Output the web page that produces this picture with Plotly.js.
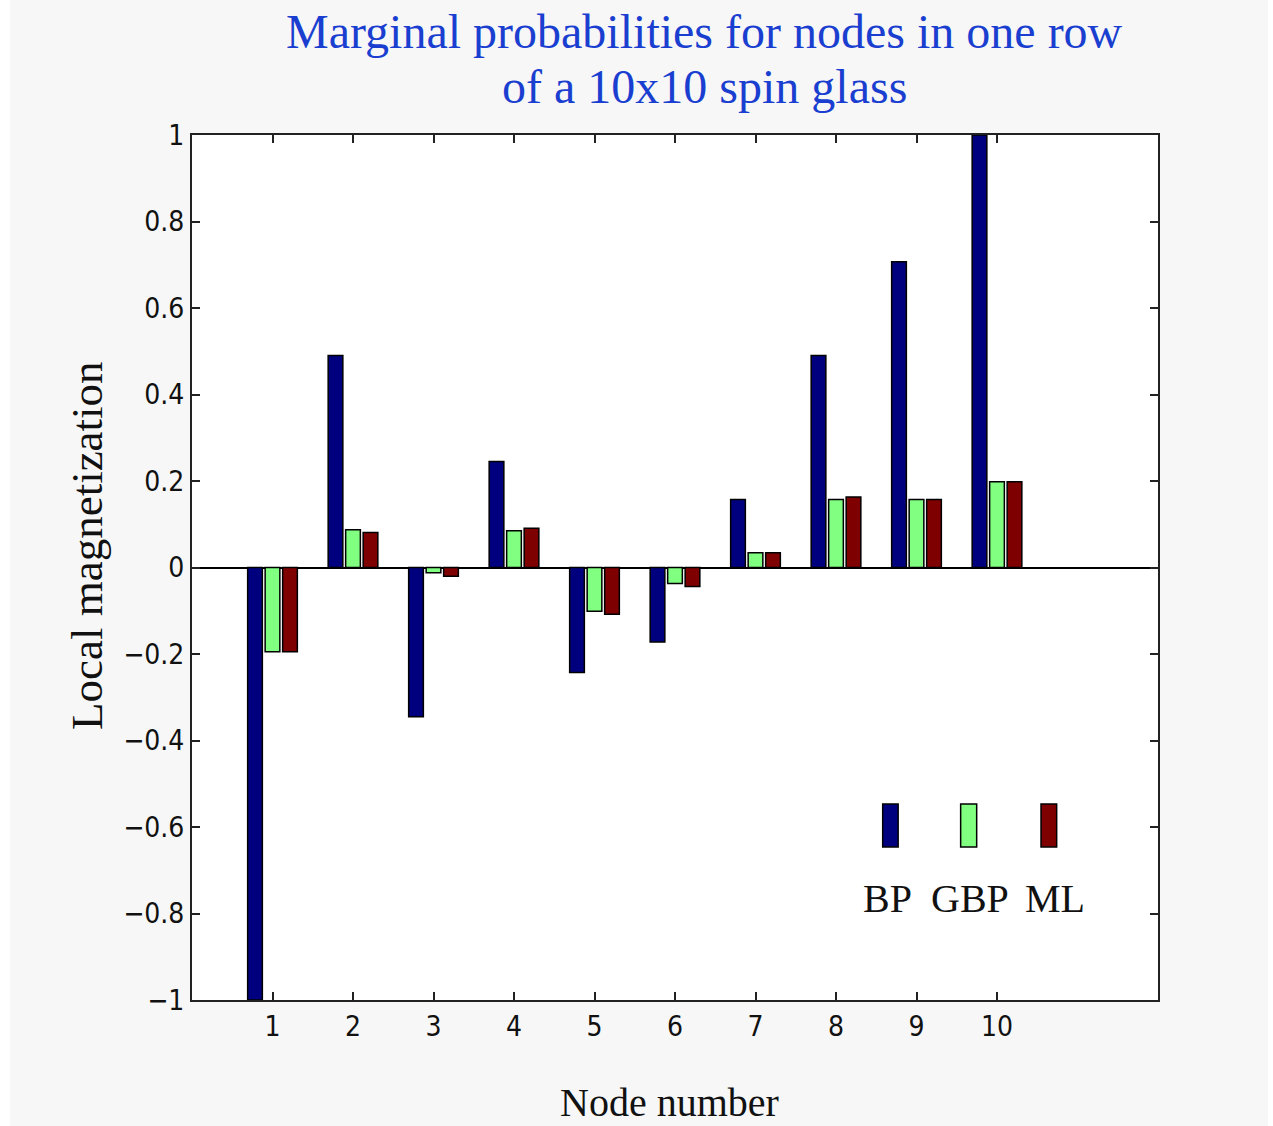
<!DOCTYPE html>
<html>
<head>
<meta charset="utf-8">
<script src="https://cdn.plot.ly/plotly-3.0.1.min.js"></script>
<style>
  html, body { margin: 0; padding: 0; background: #ffffff; }
  #chart { position: absolute; left: 10px; top: 0px; width: 1258px; height: 1126px; }
</style>
</head>
<body>
<div id="chart"></div>
<script>
// ---- data ----
const nodes = [1, 2, 3, 4, 5, 6, 7, 8, 9, 10];
const bp  = [-1.0, 0.49, -0.345, 0.245, -0.243, -0.172, 0.157, 0.49, 0.707, 1.0];
const gbp = [-0.195, 0.087, -0.012, 0.085, -0.101, -0.037, 0.034, 0.157, 0.157, 0.198];
const ml  = [-0.195, 0.081, -0.02, 0.091, -0.108, -0.044, 0.034, 0.163, 0.157, 0.198];
const seriesNames = ['BP', 'GBP', 'ML'];
const seriesColors = ['#00007f', '#80ff80', '#7f0000'];
const yTicks = [-1, -0.8, -0.6, -0.4, -0.2, 0, 0.2, 0.4, 0.6, 0.8, 1];
const yTickText = ['\u22121', '\u22120.8', '\u22120.6', '\u22120.4', '\u22120.2', '0', '0.2', '0.4', '0.6', '0.8', '1'];

const serif = '"Liberation Serif", "Times New Roman", serif';
const narrow = '"Liberation Sans Narrow", "DejaVu Sans Condensed", "Liberation Sans", sans-serif';

const values = [bp, gbp, ml];
const traces = values.map((v, i) => ({
  type: 'bar',
  x: nodes,
  y: v,
  name: seriesNames[i],
  marker: { color: seriesColors[i], line: { color: '#000000', width: 1.5 } },
  hoverinfo: 'x+y+name'
}));

// legend swatches (paper coords) and labels
const sw = [[0.715, 0.731], [0.7957, 0.8123], [0.8789, 0.8951]];
const labX = [0.7195, 0.8054, 0.8934];
const shapes = sw.map((s, i) => ({
  type: 'rect', xref: 'paper', yref: 'paper',
  x0: s[0], x1: s[1], y0: 0.177, y1: 0.2266,
  fillcolor: seriesColors[i], line: { color: '#000000', width: 1.5 }
}));

const annotations = [
  { text: 'Marginal probabilities for nodes in one row', xref: 'paper', yref: 'paper',
    x: 0.5305, y: 1.1195, xanchor: 'center', yanchor: 'middle', showarrow: false,
    font: { family: serif, size: 48, color: '#1a3fd0' } },
  { text: 'of a 10x10 spin glass', xref: 'paper', yref: 'paper',
    x: 0.5305, y: 1.0555, xanchor: 'center', yanchor: 'middle', showarrow: false,
    font: { family: serif, size: 48, color: '#1a3fd0' } },
  { text: 'Local magnetization', xref: 'paper', yref: 'paper', textangle: -90,
    x: -0.1087, y: 0.526, xanchor: 'center', yanchor: 'middle', showarrow: false,
    font: { family: serif, size: 45, color: '#111111' } },
  { text: 'Node number', xref: 'paper', yref: 'paper',
    x: 0.4938, y: -0.1185, xanchor: 'center', yanchor: 'middle', showarrow: false,
    font: { family: serif, size: 40, color: '#111111' } }
].concat(seriesNames.map((n, i) => ({
  text: n, xref: 'paper', yref: 'paper', x: labX[i], y: 0.1168,
  xanchor: 'center', yanchor: 'middle', showarrow: false,
  font: { family: serif, size: 40, color: '#111111' }
})));

const layout = {
  width: 1258, height: 1126,
  margin: { l: 182, r: 110, t: 135, b: 126, pad: 0 },
  paper_bgcolor: '#f7f7f7',
  plot_bgcolor: '#ffffff',
  showlegend: false,
  barmode: 'group',
  bargap: 0.348,
  bargroupgap: 0.16,
  xaxis: {
    range: [0, 12], tickmode: 'array', tickvals: nodes, ticktext: nodes.map(String),
    ticks: 'inside', ticklen: 8, tickwidth: 2, tickcolor: '#222222',
    showline: true, linecolor: '#222222', linewidth: 2, mirror: 'ticks',
    showgrid: false, zeroline: false, fixedrange: true,
    tickfont: { family: narrow, size: 28, color: '#111111' }
  },
  yaxis: {
    range: [-1, 1], tickmode: 'array', tickvals: yTicks, ticktext: yTickText,
    ticks: 'inside', ticklen: 8, tickwidth: 2, tickcolor: '#222222',
    showline: true, linecolor: '#222222', linewidth: 2, mirror: 'ticks',
    showgrid: false, zeroline: true, zerolinecolor: '#000000', zerolinewidth: 2,
    fixedrange: true,
    tickfont: { family: narrow, size: 28, color: '#111111' }
  },
  shapes: shapes,
  annotations: annotations
};

Plotly.newPlot('chart', traces, layout, { displayModeBar: false, staticPlot: false });
</script>
</body>
</html>
